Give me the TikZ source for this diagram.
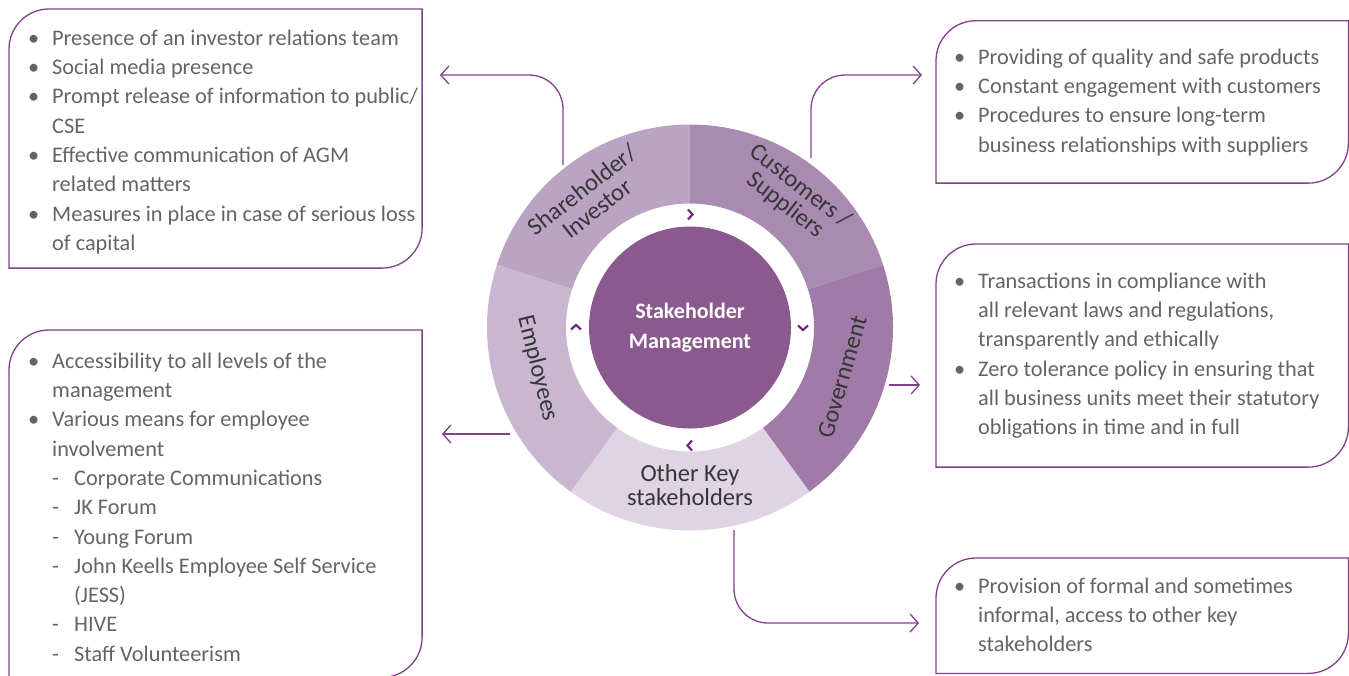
\documentclass[tikz,border=0pt]{standalone}
\usepackage{fontspec}
\setmainfont{Carlito}
\usetikzlibrary{arrows.meta,positioning,calc}

\definecolor{plum}{HTML}{823F8C}
\definecolor{hubcol}{HTML}{8A598E}
\definecolor{segsh}{HTML}{BBA3C4}
\definecolor{segcu}{HTML}{A98BB1}
\definecolor{seggv}{HTML}{A07BA7}
\definecolor{segok}{HTML}{DFD4E4}
\definecolor{segem}{HTML}{C9B7D1}
\definecolor{chevcol}{HTML}{6A2A78}
\definecolor{txtgray}{HTML}{646464}
\definecolor{labgray}{HTML}{363636}

% list lines
\newcommand{\bl}[1]{\rule{0pt}{17pt}\makebox[24pt][l]{\textbullet}#1}
\newcommand{\cl}[1]{\hspace*{24pt}#1}
\newcommand{\subl}[1]{\hspace*{24pt}\makebox[22pt][l]{-}#1}
\newcommand{\subc}[1]{\hspace*{46pt}#1}
% box outline, rounded top left and bottom right
\newcommand{\leafline}[1]{\draw[plum, line width=1.3pt] (#1.south west) -- ([yshift=-40pt]#1.north west) arc[start angle=180, end angle=90, radius=40pt] -- (#1.north east) -- ([yshift=40pt]#1.south east) arc[start angle=0, end angle=-90, radius=40pt] -- cycle;}

\begin{document}
\begin{tikzpicture}[x=1pt, y=1pt, >={Straight Barb[length=8pt, width=18pt]}]

        % Styles
        \tikzstyle{frame}=[rectangle, inner sep=0, anchor=north west]
        \tikzstyle{infotext}=[anchor=north west, inner sep=0, align=left, text=txtgray, font=\fontsize{22.3}{29.3}\selectfont]
        \tikzstyle{seglabel}=[inner sep=0, align=center, text=labgray, font=\fontsize{24.5}{24}\selectfont]
        \tikzstyle{link}=[->, plum, line width=1.3pt]
        \tikzstyle{chev}=[chevcol, line width=2.2pt]

        \useasboundingbox (0,0) rectangle (1349,-675);

        % Wheel
        \node[circle, fill=hubcol, minimum size=202pt, inner sep=0, align=center, text=white, font=\bfseries\fontsize{22}{30}\selectfont] (hub) at (690,-327.5) {Stakeholder\\Management};
        \begin{scope}[shift={(hub.center)}]
            \fill[segsh] (90:203) arc[start angle=90, end angle=162, radius=203] -- (162:124) arc[start angle=162, end angle=90, radius=124] -- cycle;
            \fill[segcu] (18:203) arc[start angle=18, end angle=90, radius=203] -- (90:124) arc[start angle=90, end angle=18, radius=124] -- cycle;
            \fill[seggv] (-54:203) arc[start angle=-54, end angle=18, radius=203] -- (18:124) arc[start angle=18, end angle=-54, radius=124] -- cycle;
            \fill[segok] (-126:203) arc[start angle=-126, end angle=-54, radius=203] -- (-54:124) arc[start angle=-54, end angle=-126, radius=124] -- cycle;
            \fill[segem] (162:203) arc[start angle=162, end angle=234, radius=203] -- (234:124) arc[start angle=234, end angle=162, radius=124] -- cycle;

            \node[seglabel, rotate=38] (shlab) at (128:163) {Shareholder/\\Investor};
            \node[seglabel, rotate=-38] (culab) at (52:167) {Customers /\\Suppliers};
            \node[seglabel, rotate=74] (gvlab) at (-18:160) {Government};
            \node[seglabel] (oklab) at (-90:158) {Other Key\\stakeholders};
            \node[seglabel, rotate=-76] (emlab) at (195:158) {Employees};

            \draw[chev, shift={(90:113)}] (-2,5) -- (2.5,0) -- (-2,-5);
            \draw[chev, shift={(0:113)}, rotate=-90] (-2,5) -- (2.5,0) -- (-2,-5);
            \draw[chev, shift={(-90:118)}, rotate=180] (-2,5) -- (2.5,0) -- (-2,-5);
            \draw[chev, shift={(180:114)}, rotate=90] (-2,5) -- (2.5,0) -- (-2,-5);
        \end{scope}

        % Boxes
        \node[frame, minimum width=412.7pt, minimum height=258.7pt] (shbox) at (9,-9) {};
        \node[frame, minimum width=412pt, minimum height=162pt] (cubox) at (936,-20.7) {};
        \node[frame, minimum width=412pt, minimum height=222.7pt] (gvbox) at (936,-244) {};
        \node[frame, minimum width=412.7pt, minimum height=347pt] (embox) at (9,-330) {};
        \node[frame, minimum width=412pt, minimum height=115pt] (okbox) at (936,-558) {};
        \leafline{shbox}
        \leafline{cubox}
        \leafline{gvbox}
        \leafline{embox}
        \leafline{okbox}

        \node[infotext] (shtxt) at ([xshift=19pt, yshift=-19pt]shbox.north west) {%
            \bl{Presence of an investor relations team}\\
            \bl{Social media presence}\\
            \bl{Prompt release of information to public/}\\
            \cl{CSE}\\
            \bl{Effective communication of AGM}\\
            \cl{related matters}\\
            \bl{Measures in place in case of serious loss}\\
            \cl{of capital}};
        \node[infotext] (cutxt) at ([xshift=18pt, yshift=-26.3pt]cubox.north west) {%
            \bl{Providing of quality and safe products}\\
            \bl{Constant engagement with customers}\\
            \bl{Procedures to ensure long-term}\\
            \cl{business relationships with suppliers}};
        \node[infotext] (gvtxt) at ([xshift=18pt, yshift=-27pt]gvbox.north west) {%
            \bl{Transactions in compliance with}\\
            \cl{all relevant laws and regulations,}\\
            \cl{transparently and ethically}\\
            \bl{Zero tolerance policy in ensuring that}\\
            \cl{all business units meet their statutory}\\
            \cl{obligations in time and in full}};
        \node[infotext] (emtxt) at ([xshift=19pt, yshift=-21pt]embox.north west) {%
            \bl{Accessibility to all levels of the}\\
            \cl{management}\\
            \bl{Various means for employee}\\
            \cl{involvement}\\
            \subl{Corporate Communications}\\
            \subl{JK Forum}\\
            \subl{Young Forum}\\
            \subl{John Keells Employee Self Service}\\
            \subc{(JESS)}\\
            \subl{HIVE}\\
            \subl{Staff Volunteerism}};
        \node[infotext] (oktxt) at ([xshift=18pt, yshift=-18pt]okbox.north west) {%
            \bl{Provision of formal and sometimes}\\
            \cl{informal, access to other key}\\
            \cl{stakeholders}};

        % Arrows
        \coordinate (shfrom) at (563,-165);
        \coordinate (shto) at (440,-75);
        \coordinate (cufrom) at (811,-158);
        \coordinate (cuto) at (922,-75);
        \coordinate (gvfrom) at (889,-385);
        \coordinate (gvto) at (920,-385);
        \coordinate (emfrom) at (510,-434);
        \coordinate (emto) at (442,-434);
        \coordinate (okfrom) at (734,-530);
        \coordinate (okto) at (919,-623);
        \draw[link, rounded corners=34pt] (shfrom) |- (shto);
        \draw[link, rounded corners=34pt] (cufrom) |- (cuto);
        \draw[link] (gvfrom) -- (gvto);
        \draw[link] (emfrom) -- (emto);
        \draw[link, rounded corners=34pt] (okfrom) |- (okto);

    \end{tikzpicture}
\end{document}
